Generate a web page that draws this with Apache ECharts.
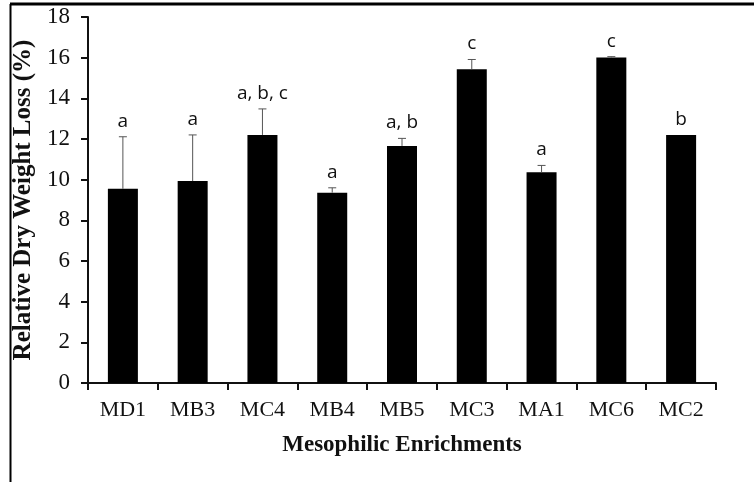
<!DOCTYPE html>
<html>
<head>
<meta charset="utf-8">
<script src="https://cdn.jsdelivr.net/npm/echarts@6/dist/echarts.min.js"></script>
<style>
  html, body { margin: 0; padding: 0; background: #fff; }
  #chart { width: 754px; height: 482px; }
</style>
</head>
<body>
<div id="chart"></div>
<script>
// mean dry weight loss per enrichment, upper error bar end, significance letters
const categories = ['MD1', 'MB3', 'MC4', 'MB4', 'MB5', 'MC3', 'MA1', 'MC6', 'MC2']
const means = [9.55, 9.93, 12.2, 9.36, 11.66, 15.43, 10.36, 16.01, 12.2]
const errTops = [12.11, 12.2, 13.48, 9.6, 12.03, 15.91, 10.7, 16.05, 12.2]
const letters = ['a', 'a', 'a, b, c', 'a', 'a, b', 'c', 'a', 'c', 'b']
const yTicks = [0, 2, 4, 6, 8, 10, 12, 14, 16, 18]

const serif = '"Liberation Serif", "Times New Roman", serif'
const chart = echarts.init(document.getElementById('chart'))

const errData = categories.map((c, i) => [i, means[i], errTops[i], letters[i]])

const renderErr = (params, api) => {
  const x = api.value(0)
  const base = api.coord([x, api.value(1)])
  const top = api.coord([x, api.value(2)])
  const children = []
  if (top[1] < base[1] - 0.5) {
    children.push({
      type: 'line',
      shape: { x1: top[0], y1: base[1], x2: top[0], y2: top[1] },
      style: { stroke: '#555', lineWidth: 1 }
    })
    children.push({
      type: 'line',
      shape: { x1: top[0] - 4, y1: top[1], x2: top[0] + 4, y2: top[1] },
      style: { stroke: '#555', lineWidth: 1 }
    })
  }
  children.push({
    type: 'text',
    style: {
      x: top[0],
      y: top[1] - 6,
      text: api.value(3),
      fill: '#111',
      font: '19px "Open Sans", sans-serif',
      align: 'center',
      verticalAlign: 'bottom'
    }
  })
  return { type: 'group', children }
}

const option = {
  animation: false,
  backgroundColor: '#fff',
  grid: { left: 88, right: 38, top: 17, bottom: 99 },
  xAxis: {
    type: 'category',
    data: categories,
    name: 'Mesophilic Enrichments',
    nameLocation: 'middle',
    nameGap: 51,
    nameTextStyle: { fontFamily: serif, fontWeight: 'bold', fontSize: 23, color: '#111' },
    axisLine: { lineStyle: { color: '#111', width: 2 } },
    axisTick: { show: true, length: 7, lineStyle: { color: '#111', width: 2 } },
    axisLabel: { fontFamily: serif, fontSize: 22, color: '#111', margin: 16 }
  },
  yAxis: {
    type: 'value',
    min: yTicks[0],
    max: yTicks[yTicks.length - 1],
    interval: 2,
    name: 'Relative Dry Weight Loss (%)',
    nameLocation: 'middle',
    nameGap: 48,
    nameTextStyle: { fontFamily: serif, fontWeight: 'bold', fontSize: 25, color: '#111' },
    axisLine: { show: true, lineStyle: { color: '#111', width: 2 } },
    axisTick: { show: true, length: 7, lineStyle: { color: '#111', width: 2 } },
    axisLabel: { fontFamily: serif, fontSize: 23, color: '#111', margin: 18 },
    splitLine: { show: false }
  },
  series: [
    {
      type: 'bar',
      data: means,
      barWidth: '43%',
      itemStyle: { color: '#000' }
    },
    {
      type: 'custom',
      data: errData,
      renderItem: renderErr,
      encode: { x: 0, y: 2 },
      z: 3
    }
  ],
  graphic: [
    { type: 'line', shape: { x1: 10, y1: 4, x2: 754, y2: 4 }, style: { stroke: '#000', lineWidth: 3 } },
    { type: 'line', shape: { x1: 10.5, y1: 4, x2: 10.5, y2: 482 }, style: { stroke: '#000', lineWidth: 2 } }
  ]
}

chart.setOption(option)
</script>
</body>
</html>
